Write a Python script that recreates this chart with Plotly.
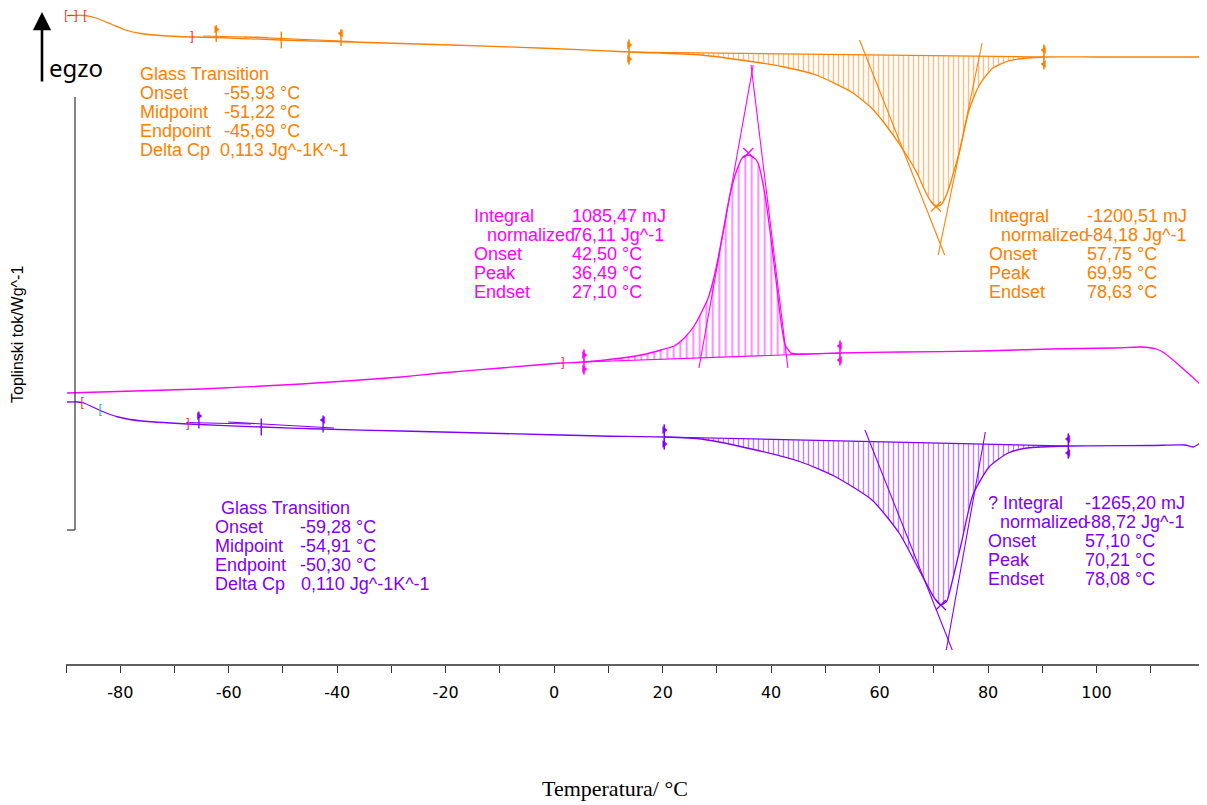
import plotly.graph_objects as go

# ---------------- page / layout constants ----------------
OFF = 8                      # browser body margin
W, H = 1207 - OFF, 805 - OFF
ML, MR, MT = 66 - OFF, 2, 0
PW = W - ML - MR
PH = 664 - OFF - MT
MB = H - MT - PH
XR = [-90, 120]
YR = [0, PH]

ORANGE = "#ff8000"
MAGENTA = "#ff00ff"
PURPLE = "#8000ff"
RED = "#ff2a2a"
TEAL = "#2ab0b0"
TXT_FONT = "Liberation Sans"

# ---------------- data (temperature in °C, heat flow in arbitrary display units) ----------------
tick_values = [-90, -80, -70, -60, -50, -40, -30, -20, -10, 0, 10, 20, 30, 40, 50, 60, 70, 80, 90, 100, 110, 120]
tick_labels = ["", "-80", "", "-60", "", "-40", "", "-20", "", "0", "", "20", "", "40", "", "60", "", "80", "", "100", "", ""]

# orange DSC curve (top)
orange_T = [-89.8, -86.5, -84.5, -81.7, -79.0, -76.2, -72.5, -67.0, -62.4, -50.4, -37.5, -19.0, -0.5, 13.8,
            27.1, 36.3, 42.4, 48.3, 54.8, 58.5, 61.0, 64.0, 66.8, 68.3, 69.3, 70.4, 71.4, 72.4, 73.4, 74.7,
            76.5, 78.4, 80.9, 83.7, 87.2, 90.3, 100.0, 119.5]
orange_y = [648.5, 648.5, 646, 640, 634, 630.5, 628.5, 627, 626.5, 624, 622, 619, 615.5, 612,
            609, 602.5, 597, 589, 572, 556, 540, 517, 492, 474, 464, 457.5, 459.5, 470, 487, 512,
            554, 579, 596, 603, 606, 607, 607, 607]
orange_base_T = [13.8, 90.3]
orange_base_y = [612, 607]
orange_tan1_T = [56.3, 72.0]
orange_tan1_y = [624, 409]
orange_tan2_T = [78.9, 70.8]
orange_tan2_y = [621, 409]
orange_peak = (70.4, 457.5)

# magenta DSC curve (middle)
magenta_T = [-89.8, -65.1, -46.6, -28.2, -20.8, -9.8, 1.3, 5.5, 12.4, 16.0, 19.7, 22.1, 24.0, 25.8, 27.1,
             28.4, 29.3, 30.2, 31.3, 32.6, 33.9, 34.8, 35.7, 36.7, 37.6, 38.3, 39.1, 40.0, 40.9, 41.9,
             42.6, 43.7, 45.5, 52.7, 64.0, 78.7, 91.6, 103.2, 108.2, 111.0, 112.5, 115.6, 119.3]
magenta_y = [271, 275, 280, 287, 291, 296, 301, 302, 306, 309, 314, 318, 326, 338, 351,
             366, 383, 405, 437, 474, 497, 507, 509, 507, 501, 486, 461, 424, 384, 339,
             319, 311, 310, 311, 312, 313, 315, 316, 317, 315, 311, 297, 279]
magenta_base_T = [5.5, 52.7]
magenta_base_y = [302, 311]
magenta_tan1_T = [26.7, 36.7]
magenta_tan1_y = [296, 599]
magenta_tan2_T = [36.3, 43.1]
magenta_tan2_y = [599, 296]
magenta_peak = (35.8, 511)

# purple DSC curve (bottom)
purple_T = [-89.8, -87.8, -86.7, -83.5, -80.4, -76.1, -67.5, -54.0, -43.0, -28.2, -9.8, 8.7, 20.3, 27.1,
            37.2, 45.5, 51.6, 58.6, 63.6, 67.3, 70.1, 71.3, 72.4, 73.0, 75.0, 77.2, 80.2, 83.7, 87.2,
            94.8, 110.0, 116.3, 117.8, 119.6]
purple_y = [262, 262, 261, 253, 247, 243, 240, 237, 235, 233, 230.5, 228, 227, 225,
            214, 202, 188, 164, 131, 94, 66, 59, 63, 74, 119, 169, 197, 211, 216,
            218, 218.5, 219, 217, 223]
purple_base_T = [20.3, 94.8]
purple_base_y = [227, 218]
purple_tan1_T = [57.3, 73.4]
purple_tan1_y = [234, 14]
purple_tan2_T = [79.5, 72.3]
purple_tan2_y = [232, 14]
purple_peak = (71.3, 59)

# glass-transition evaluation marks
orange_tg_limits_T = [-62.3, -39.3]
orange_tg_limits_y = [626.5, 622.5]
orange_tg_mid = (-50.3, 624)
orange_tg_line1_T = [-64.7, -52.7]
orange_tg_line1_y = [628, 626.5]
orange_tg_line2_T = [-57.2, -37.0]
orange_tg_line2_y = [627, 622.5]

purple_tg_limits_T = [-65.5, -42.6]
purple_tg_limits_y = [240, 236]
purple_tg_mid = (-54.0, 237)
purple_tg_line1_T = [-67.8, -55.9]
purple_tg_line1_y = [241.5, 240]
purple_tg_line2_T = [-60.1, -40.6]
purple_tg_line2_y = [242, 236]

# range brackets
bracket_T = [-89.1, -86.5, -66.8, -90.2, 1.6, -90.6, -87.0, -83.7, -67.5, 119.4]
bracket_y = [648.5, 648.5, 627, 271, 301, 261, 261, 254, 240, 224]
bracket_txt = ["[\u2013]", "[", "]", "[", "]", "[", "[", "[", "]", "]"]
bracket_col = [RED, RED, RED, RED, RED, RED, RED, TEAL, RED, TEAL]

# result texts
orange_tg_rows = [("Glass Transition", ""), ("Onset", "-55,93 °C"), ("Midpoint", "-51,22 °C"),
                  ("Endpoint", "-45,69 °C"), ("Delta Cp", "0,113 Jg^-1K^-1")]
purple_tg_rows = [("Glass Transition", ""), ("Onset", "-59,28 °C"), ("Midpoint", "-54,91 °C"),
                  ("Endpoint", "-50,30 °C"), ("Delta Cp", "0,110 Jg^-1K^-1")]
magenta_pk_rows = [("Integral", "1085,47 mJ"), ("normalized", "76,11 Jg^-1"), ("Onset", "42,50 °C"),
                   ("Peak", "36,49 °C"), ("Endset", "27,10 °C")]
orange_pk_rows = [("Integral", "-1200,51 mJ"), ("normalized", "-84,18 Jg^-1"), ("Onset", "57,75 °C"),
                  ("Peak", "69,95 °C"), ("Endset", "78,63 °C")]
purple_pk_rows = [("? Integral", "-1265,20 mJ"), ("normalized", "-88,72 Jg^-1"), ("Onset", "57,10 °C"),
                  ("Peak", "70,21 °C"), ("Endset", "78,08 °C")]

# ---------------- figure ----------------
fig = go.Figure()


def line(xs, ys, color, width=1.3, smooth=False):
    ln = dict(color=color, width=width)
    if smooth:
        ln.update(shape="spline", smoothing=0.6)
    fig.add_trace(go.Scatter(x=xs, y=ys, mode="lines", line=ln,
                             hoverinfo="skip", showlegend=False))


def hatch(curve_T, curve_y, base_T, base_y, color, spacing):
    # baseline, then the curve part between the limits filled with vertical hatching
    line(base_T, base_y, color, 1.2)
    seg = [(t, v) for t, v in zip(curve_T, curve_y) if base_T[0] <= t <= base_T[1]]
    fig.add_trace(go.Scatter(x=[s[0] for s in seg], y=[s[1] for s in seg], mode="lines",
                             line=dict(width=0, color=color, shape="spline", smoothing=0.6),
                             fill="tonexty", fillcolor="rgba(0,0,0,0)",
                             fillpattern=dict(shape="|", size=spacing, solidity=0.28,
                                              fgcolor=color, bgcolor="rgba(0,0,0,0)"),
                             hoverinfo="skip", showlegend=False))


for cT, cy, bT, by, col, sp in [
    (orange_T, orange_y, orange_base_T, orange_base_y, ORANGE, 5),
    (magenta_T, magenta_y, magenta_base_T, magenta_base_y, MAGENTA, 6.5),
    (purple_T, purple_y, purple_base_T, purple_base_y, PURPLE, 5),
]:
    hatch(cT, cy, bT, by, col, sp)

# tangents
for xs, ys, col in [
    (orange_tan1_T, orange_tan1_y, ORANGE), (orange_tan2_T, orange_tan2_y, ORANGE),
    (magenta_tan1_T, magenta_tan1_y, MAGENTA), (magenta_tan2_T, magenta_tan2_y, MAGENTA),
    (purple_tan1_T, purple_tan1_y, PURPLE), (purple_tan2_T, purple_tan2_y, PURPLE),
    (orange_tg_line1_T, orange_tg_line1_y, ORANGE), (orange_tg_line2_T, orange_tg_line2_y, ORANGE),
    (purple_tg_line1_T, purple_tg_line1_y, PURPLE), (purple_tg_line2_T, purple_tg_line2_y, PURPLE),
]:
    line(xs, ys, col, 1.1)

# main curves
line(orange_T, orange_y, ORANGE, 1.3, smooth=True)
line(magenta_T, magenta_y, MAGENTA, 1.3, smooth=True)
line(purple_T, purple_y, PURPLE, 1.3, smooth=True)


def markers(xs, ys, symbol, size, color, lw=1.4):
    fig.add_trace(go.Scatter(x=xs, y=ys, mode="markers", cliponaxis=False,
                             marker=dict(symbol=symbol, size=size, color=color,
                                         line=dict(color=color, width=lw)),
                             hoverinfo="skip", showlegend=False))


# peak crosses
for (pt, col) in [(orange_peak, ORANGE), (magenta_peak, MAGENTA), (purple_peak, PURPLE)]:
    markers([pt[0]], [pt[1]], "x-thin", 10, col, 1.2)

# integration limit flags
for bT, by, col in [(orange_base_T, orange_base_y, ORANGE),
                    (magenta_base_T, magenta_base_y, MAGENTA),
                    (purple_base_T, purple_base_y, PURPLE)]:
    markers(bT, by, "line-ns", 18, col, 1.6)
    markers([bT[0], bT[0]], [by[0] + 7, by[0] - 7], "triangle-right", 6, col, 0.5)
    markers([bT[1], bT[1]], [by[1] + 7, by[1] - 7], "triangle-left", 6, col, 0.5)

# glass transition flags and midpoints
for lT, ly, mid, col in [(orange_tg_limits_T, orange_tg_limits_y, orange_tg_mid, ORANGE),
                         (purple_tg_limits_T, purple_tg_limits_y, purple_tg_mid, PURPLE)]:
    markers(lT, [v + 4 for v in ly], "line-ns", 12, col, 1.4)
    markers([lT[0]], [ly[0] + 8], "triangle-right", 6, col, 0.5)
    markers([lT[1]], [ly[1] + 8], "triangle-left", 6, col, 0.5)
    markers([mid[0]], [mid[1]], "line-ns", 12, col, 1.4)

# brackets
fig.add_trace(go.Scatter(x=bracket_T, y=bracket_y, mode="text", text=bracket_txt, cliponaxis=False,
                         textfont=dict(color=bracket_col, size=12, family=TXT_FONT),
                         hoverinfo="skip", showlegend=False))

# ---------------- text / decoration ----------------
ann = []
shapes = []


def px_to_paper(px, py):
    # page pixel position -> paper coordinates of the plot area
    return (px - OFF - ML) / PW, 1 - (py - OFF - MT) / PH


def txt(px, py, s, color, size=18, family=TXT_FONT, **kw):
    x, y = px_to_paper(px, py)
    d = dict(xref="paper", yref="paper", x=x, y=y, text=s, showarrow=False,
             xanchor="left", yanchor="middle", font=dict(color=color, size=size, family=family))
    d.update(kw)
    ann.append(d)


def block(rows, col1, col2, y0, color, dy=19, indent=None, first_col=None, extra_col2=None):
    for i, (lab, val) in enumerate(rows):
        py = y0 + i * dy
        x1 = col1
        if i == 0 and first_col is not None:
            x1 = first_col
        if indent is not None and lab == "normalized":
            x1 = indent
        txt(x1, py, lab, color)
        if val:
            x2 = col2
            if extra_col2 is not None and lab in extra_col2:
                x2 = extra_col2[lab]
            txt(x2, py, val, color)


block(orange_tg_rows, 138, 222, 74, ORANGE, extra_col2={"Delta Cp": 218})
block(purple_tg_rows, 213, 298, 508, PURPLE, first_col=219, extra_col2={"Delta Cp": 299})
block(magenta_pk_rows, 472, 570, 216, MAGENTA, indent=485)
block(orange_pk_rows, 987, 1085, 216, ORANGE, indent=999)
block(purple_pk_rows, 986, 1083, 503, PURPLE, indent=998)

# axis titles
txt(17, 335, "Toplinski tok/Wg^-1", "black", size=16, xanchor="center", textangle=-90)
txt(615, 789, "Temperatura/ °C", "black", size=22, family="Liberation Serif", xanchor="center")

# exo arrow
hx, hy = px_to_paper(42, 12)
ann.append(dict(xref="paper", yref="paper", x=hx, y=hy, text="", showarrow=True,
                ax=0, ay=71, axref="pixel", ayref="pixel", arrowhead=2, arrowsize=1.4,
                arrowwidth=2.6, arrowcolor="black"))
txt(47, 67, "egzo", "black", size=24, family="Noto Sans")

# left vertical axis line with its end tick
ax0, ay0 = px_to_paper(75, 97)
ax1, ay1 = px_to_paper(75, 530)
shapes.append(dict(type="line", xref="paper", yref="paper", x0=ax0, y0=ay0, x1=ax1, y1=ay1,
                   line=dict(color="#333333", width=1.2)))
bx0, _ = px_to_paper(67, 530)
shapes.append(dict(type="line", xref="paper", yref="paper", x0=bx0, y0=ay1, x1=ax1, y1=ay1,
                   line=dict(color="#333333", width=1.2)))

fig.update_layout(
    width=W, height=H,
    margin=dict(l=ML, r=MR, t=MT, b=MB),
    paper_bgcolor="white", plot_bgcolor="white",
    showlegend=False,
    annotations=ann, shapes=shapes,
    xaxis=dict(range=XR, tickvals=tick_values, ticktext=tick_labels, ticks="outside", ticklen=7,
               tickwidth=1, tickcolor="#333333", showline=True, linecolor="#606060", linewidth=2,
               showgrid=False, zeroline=False, ticklabelstandoff=6,
               tickfont=dict(family="Liberation Sans Narrow, DejaVu Sans, sans-serif", size=16,
                             color="black")),
    yaxis=dict(range=YR, visible=False, showgrid=False, zeroline=False),
)

fig.write_html("out.html")
